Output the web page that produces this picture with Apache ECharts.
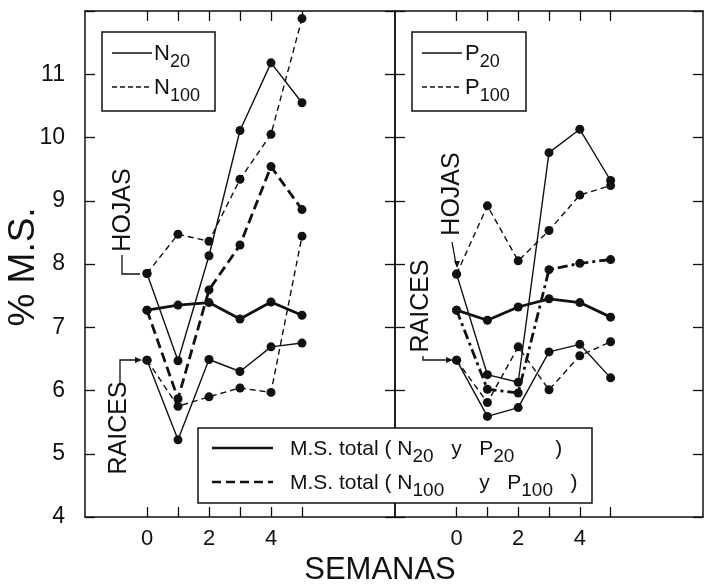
<!DOCTYPE html>
<html>
<head>
<meta charset="utf-8">
<script src="https://cdn.jsdelivr.net/npm/echarts@6/dist/echarts.min.js"></script>
<style>
  html, body { margin: 0; padding: 0; background: #fff; }
  #chart { width: 705px; height: 587px; }
</style>
</head>
<body>
<div id="chart"></div>
<script>
// weeks after treatment
const weeks = [0, 1, 2, 3, 4, 5];

// left panel: nitrogen
const hojasN20 = [7.85, 6.47, 8.13, 10.11, 11.18, 10.55];
const hojasN100 = [7.85, 8.47, 8.36, 9.34, 10.05, 11.88];
const totalN20 = [7.27, 7.35, 7.39, 7.13, 7.40, 7.19];
const totalN100 = [7.27, 5.87, 7.59, 8.30, 9.54, 8.86];
const raicesN20 = [6.48, 5.22, 6.49, 6.30, 6.69, 6.75];
const raicesN100 = [6.48, 5.75, 5.90, 6.04, 5.97, 8.44];

// right panel: phosphorus
const hojasP20 = [7.84, 6.25, 6.13, 9.76, 10.13, 9.32];
const hojasP100 = [7.84, 8.92, 8.05, 8.53, 9.09, 9.24];
const totalP20 = [7.27, 7.11, 7.32, 7.45, 7.39, 7.16];
const totalP100 = [7.27, 6.02, 5.96, 7.91, 8.01, 8.07];
const raicesP20 = [6.48, 5.59, 5.73, 6.61, 6.73, 6.20];
const raicesP100 = [6.48, 5.81, 6.69, 6.01, 6.55, 6.77];

const xTickWeeks = [0, 1, 2, 3, 4, 5];
const xTickLabels = [0, 2, 4];
const yTickLabels = [4, 5, 6, 7, 8, 9, 10, 11];

const FONT = "Liberation Sans";
const INK = "#111";

function pairs(vals) {
  return weeks.map((w, i) => [w, vals[i]]);
}

function xAxis(gridIndex, position) {
  const bottom = position === "bottom";
  return {
    type: "value",
    gridIndex,
    position,
    min: -2,
    max: 8,
    axisLine: { lineStyle: { color: INK, width: 1.5 } },
    axisTick: {
      inside: true,
      length: 10,
      customValues: xTickWeeks,
      lineStyle: { color: INK, width: 1.3 },
    },
    axisLabel: {
      show: true,
      customValues: bottom ? xTickLabels : xTickWeeks,
      formatter: bottom ? "{value}" : () => "",
      fontFamily: FONT,
      fontSize: 22,
      color: INK,
      margin: 11,
    },
    splitLine: { show: false },
  };
}

function yAxis(gridIndex, position, labels) {
  return {
    type: "value",
    gridIndex,
    position,
    min: 4,
    max: 12,
    interval: 1,
    axisLine: { onZero: false, lineStyle: { color: INK, width: 1.5 } },
    axisTick: { inside: true, length: 10, lineStyle: { color: INK, width: 1.3 } },
    axisLabel: {
      show: true,
      customValues: yTickLabels,
      formatter: labels ? "{value}" : () => "",
      fontFamily: FONT,
      fontSize: 23,
      color: INK,
      margin: 20,
    },
    splitLine: { show: false },
  };
}

function line(name, vals, axis, style) {
  return {
    name,
    type: "line",
    xAxisIndex: axis,
    yAxisIndex: axis,
    data: pairs(vals),
    symbol: "circle",
    symbolSize: 9,
    itemStyle: { color: INK },
    lineStyle: Object.assign({ color: INK }, style),
    animation: false,
  };
}

const thin = { width: 1.4, type: "solid" };
const thinDash = { width: 1.4, type: [6, 4] };
const thick = { width: 2.8, type: "solid" };
const thickDash = { width: 2.8, type: [10, 5] };
const thickDashDot = { width: 2.8, type: [10, 4, 3, 4] };

// legend text with subscripts
const rich = {
  t: { fontFamily: FONT, fontSize: 21, color: INK, lineHeight: 30, verticalAlign: "middle" },
  s: { fontFamily: FONT, fontSize: 19, color: INK, lineHeight: 34, verticalAlign: "bottom" },
  b: { fontFamily: FONT, fontSize: 22, color: INK, lineHeight: 30, verticalAlign: "middle" },
  bs: { fontFamily: FONT, fontSize: 18, color: INK, lineHeight: 34, verticalAlign: "bottom" },
};

function richText(x, y, text) {
  return {
    type: "text",
    x, y, z: 101,
    style: { text, rich, textVerticalAlign: "middle", fill: INK },
  };
}

function seg(points, width, dash) {
  return {
    type: "polyline",
    z: 101,
    shape: { points },
    style: { stroke: INK, lineWidth: width, lineDash: dash || null, fill: null },
  };
}

function vText(x, y, text, size) {
  return {
    type: "text",
    x, y, rotation: Math.PI / 2, z: 101,
    style: {
      text, fontFamily: FONT, fontSize: size || 25, fill: INK,
      align: "center", verticalAlign: "middle",
    },
  };
}

function arrowHead(x, y, dir) {
  // small triangle pointing right ("r") or down ("d")
  const pts = dir === "r"
    ? [[x, y], [x - 7, y - 3], [x - 7, y + 3]]
    : [[x, y], [x - 3, y - 7], [x + 3, y - 7]];
  return { type: "polygon", z: 101, shape: { points: pts }, style: { fill: INK } };
}

const chart = echarts.init(document.getElementById("chart"), null, { renderer: "canvas" });

chart.setOption({
  backgroundColor: "#fff",
  animation: false,
  grid: [
    { left: 85, top: 11, width: 310, height: 506, outerBoundsMode: "none", containLabel: false },
    { left: 395, top: 11, width: 308, height: 506, outerBoundsMode: "none", containLabel: false },
  ],
  xAxis: [
    xAxis(0, "bottom"),
    xAxis(1, "bottom"),
    xAxis(0, "top"),
    xAxis(1, "top"),
  ],
  yAxis: [
    yAxis(0, "left", true),
    yAxis(1, "left", false),
    yAxis(0, "right", false),
    yAxis(1, "right", false),
  ],
  series: [
    line("HOJAS N20", hojasN20, 0, thin),
    line("HOJAS N100", hojasN100, 0, thinDash),
    line("M.S. total N20", totalN20, 0, thick),
    line("M.S. total N100", totalN100, 0, thickDash),
    line("RAICES N20", raicesN20, 0, thin),
    line("RAICES N100", raicesN100, 0, thinDash),
    line("HOJAS P20", hojasP20, 1, thin),
    line("HOJAS P100", hojasP100, 1, thinDash),
    line("M.S. total P20", totalP20, 1, thick),
    line("M.S. total P100", totalP100, 1, thickDashDot),
    line("RAICES P20", raicesP20, 1, thin),
    line("RAICES P100", raicesP100, 1, thinDash),
  ],
  graphic: [
    // axis titles
    vText(24, 267, "% M.S.", 37),
    {
      type: "text", x: 380, y: 570, z: 101,
      style: { text: "SEMANAS", fontFamily: FONT, fontSize: 31, fill: INK, align: "center", verticalAlign: "middle" },
    },
    // left legend box
    { type: "rect", z: 100, shape: { x: 102, y: 32, width: 113, height: 79 }, style: { fill: "#fff", stroke: INK, lineWidth: 1.5 } },
    seg([[112, 53], [152, 53]], 1.4),
    seg([[112, 87], [152, 87]], 1.4, [5, 3]),
    richText(154, 54, "{b|N}{bs|20}"),
    richText(154, 88, "{b|N}{bs|100}"),
    // right legend box
    { type: "rect", z: 100, shape: { x: 412, y: 32, width: 114, height: 79 }, style: { fill: "#fff", stroke: INK, lineWidth: 1.5 } },
    seg([[422, 53], [462, 53]], 1.4),
    seg([[422, 87], [462, 87]], 1.4, [5, 3]),
    richText(465, 54, "{b|P}{bs|20}"),
    richText(465, 88, "{b|P}{bs|100}"),
    // bottom legend box
    { type: "rect", z: 100, shape: { x: 198, y: 428, width: 394, height: 75 }, style: { fill: "#fff", stroke: INK, lineWidth: 1.5 } },
    seg([[212, 448], [273, 448]], 2.6),
    seg([[212, 482], [273, 482]], 2.6, [9, 5]),
    richText(290, 449, "{t|M.S. total ( N}{s|20}{t|   y   P}{s|20}{t|       )}"),
    richText(290, 483, "{t|M.S. total ( N}{s|100}{t|      y   P}{s|100}{t|   )}"),
    // annotations, left panel
    vText(123, 210, "HOJAS"),
    seg([[122, 255], [122, 274], [140, 274]], 1.3),
    vText(119, 428, "RAICES"),
    seg([[120, 384], [120, 360], [138, 360]], 1.3),
    arrowHead(142, 360, "r"),
    // annotations, right panel
    vText(452, 194, "HOJAS"),
    seg([[452, 242], [456, 264]], 1.3),
    arrowHead(457, 268, "d"),
    vText(421, 306, "RAICES"),
    seg([[423, 356], [423, 360], [449, 360]], 1.3),
    arrowHead(453, 360, "r"),
  ],
});
</script>
</body>
</html>
